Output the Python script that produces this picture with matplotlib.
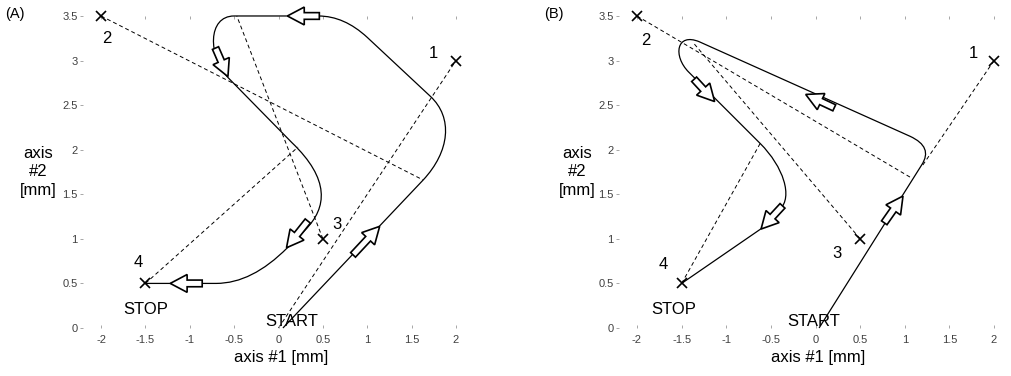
import matplotlib.pyplot as plt
from matplotlib.path import Path
from matplotlib.patches import PathPatch, FancyArrow

plt.rcParams['font.family'] = ['Liberation Sans', 'DejaVu Sans']

# target points (shared by both panels)
target_x = [2.0, -2.0, 0.5, -1.5]
target_y = [3.0, 3.5, 1.0, 0.5]
target_names = ['1', '2', '3', '4']

x_ticks = [-2, -1.5, -1, -0.5, 0, 0.5, 1, 1.5, 2]
x_tick_labels = ['-2', '-1.5', '-1', '-0.5', '0', '0.5', '1', '1.5', '2']
y_ticks = [0, 0.5, 1, 1.5, 2, 2.5, 3, 3.5]
y_tick_labels = ['0', '0.5', '1', '1.5', '2', '2.5', '3', '3.5']

M, L, C3, C4 = Path.MOVETO, Path.LINETO, Path.CURVE3, Path.CURVE4

# tool trajectory (A): straight runs joined by rounded corners
path_a_verts = [(0.05, 0.0), (1.63, 1.66),
                (1.93, 1.98), (1.97, 2.36), (1.71, 2.6),
                (1.0, 3.26),
                (0.74, 3.5), (0.45, 3.5),
                (-0.5, 3.5),
                (-0.8, 3.5), (-0.8, 3.05), (-0.56, 2.8),
                (0.15, 2.08),
                (0.58, 1.67), (0.55, 1.35), (0.3, 1.1),
                (0.1, 0.9),
                (-0.3, 0.5), (-0.7, 0.5),
                (-1.5, 0.5)]
path_a_codes = [M, L, C4, C4, C4, L, C3, C3, L, C4, C4, C4, L,
                C4, C4, C4, L, C3, C3, L]

# tool trajectory (B)
path_b_verts = [(0.04, 0.0), (1.19, 1.83),
                (1.32, 2.03), (1.06, 2.15),
                (-1.3, 3.21),
                (-1.56, 3.32), (-1.6, 3.05), (-1.42, 2.87),
                (-0.62, 2.07),
                (-0.36, 1.81), (-0.25, 1.47), (-0.4, 1.33),
                (-0.6, 1.12),
                (-1.5, 0.5)]
path_b_codes = [M, L, C3, C3, L, C4, C4, C4, L, C4, C4, C4, L, L]

# dashed construction lines: (x0, y0, x1, y1)
dashes_a = [(0.0, 0.0, 2.0, 3.0),
            (-2.0, 3.5, 1.63, 1.66),
            (0.5, 1.0, -0.47, 3.5),
            (-1.5, 0.5, 0.22, 2.03)]
dashes_b = [(2.0, 3.0, 1.19, 1.81),
            (-2.0, 3.5, 1.08, 1.68),
            (0.5, 1.0, -1.37, 3.2),
            (-1.5, 0.5, -0.62, 2.07)]

# direction arrows: (tail_x, tail_y, tip_x, tip_y)
arrows_a = [(0.84, 0.82, 1.14, 1.14),
            (0.46, 3.5, 0.10, 3.5),
            (-0.71, 3.14, -0.57, 2.82),
            (0.33, 1.20, 0.09, 0.90),
            (-0.86, 0.5, -1.22, 0.5)]
arrows_b = [(0.77, 1.18, 0.98, 1.48),
            (0.21, 2.47, -0.11, 2.62),
            (-1.36, 2.79, -1.13, 2.54),
            (-0.37, 1.37, -0.61, 1.11)]

# where the point numbers and START/STOP go in each panel
names_pos_a = [(1.74, 3.08), (-1.94, 3.25), (0.66, 1.16), (-1.58, 0.74)]
names_pos_b = [(1.77, 3.08), (-1.90, 3.23), (0.24, 0.84), (-1.71, 0.71)]
stop_pos = {'A': (-1.50, 0.21), 'B': (-1.59, 0.21)}
start_pos = {'A': (0.15, 0.07), 'B': (-0.02, 0.07)}


def draw_panel(ax, verts, codes, dashes, arrows, names_pos, key, ylab_x):
    ax.set_xlim(-2.2, 2.25)
    ax.set_ylim(0, 3.5)
    for s in ax.spines.values():
        s.set_visible(False)
    ax.set_xticks(x_ticks)
    ax.set_xticklabels(x_tick_labels)
    ax.set_yticks(y_ticks)
    ax.set_yticklabels(y_tick_labels)
    ax.tick_params(axis='both', labelsize=8, labelcolor='0.25', color='0.6',
                   length=2, width=0.6)
    ax.tick_params(axis='x', direction='in', top=True, pad=5)
    ax.tick_params(axis='y', direction='out', pad=2)

    for x0, y0, x1, y1 in dashes:
        ax.plot([x0, x1], [y0, y1], color='black', lw=0.7,
                ls=(0, (4, 3)), zorder=1, clip_on=False)

    ax.add_patch(PathPatch(Path(verts, codes), fc='none', ec='black',
                           lw=0.9, zorder=2, clip_on=False))

    for tx, ty, hx, hy in arrows:
        ax.add_patch(FancyArrow(tx, ty, hx - tx, hy - ty, width=0.075,
                                head_width=0.2, head_length=0.19,
                                length_includes_head=True, fc='white',
                                ec='black', lw=1.2, zorder=4, clip_on=False))

    ax.plot(target_x, target_y, ls='none', marker='x', ms=7, mew=1.2,
            color='black', zorder=5, clip_on=False)
    for name, (px, py) in zip(target_names, names_pos):
        ax.text(px, py, name, fontsize=12, ha='center', va='center')
    ax.text(*stop_pos[key], 'STOP', fontsize=12, ha='center', va='center')
    ax.text(*start_pos[key], 'START', fontsize=12, ha='center',
            va='center', zorder=6)

    ax.set_xlabel('axis #1 [mm]', fontsize=12, labelpad=4)
    ax.text(ylab_x, 0.5, 'axis\n#2\n[mm]', transform=ax.transAxes,
            fontsize=12, ha='center', va='center', linespacing=1.3)


fig = plt.figure(figsize=(10.12, 3.76), dpi=100)
ax_a = fig.add_axes([0.0823, 0.1277, 0.3902, 0.8298])
ax_b = fig.add_axes([0.6118, 0.1277, 0.3925, 0.8298])

draw_panel(ax_a, path_a_verts, path_a_codes, dashes_a, arrows_a,
           names_pos_a, 'A', -0.115)
draw_panel(ax_b, path_b_verts, path_b_codes, dashes_b, arrows_b,
           names_pos_b, 'B', -0.105)

fig.text(0.005, 0.963, '(A)', fontsize=10.5, va='center')
fig.text(0.538, 0.963, '(B)', fontsize=10.5, va='center')

fig.savefig('out.png', dpi=100)
